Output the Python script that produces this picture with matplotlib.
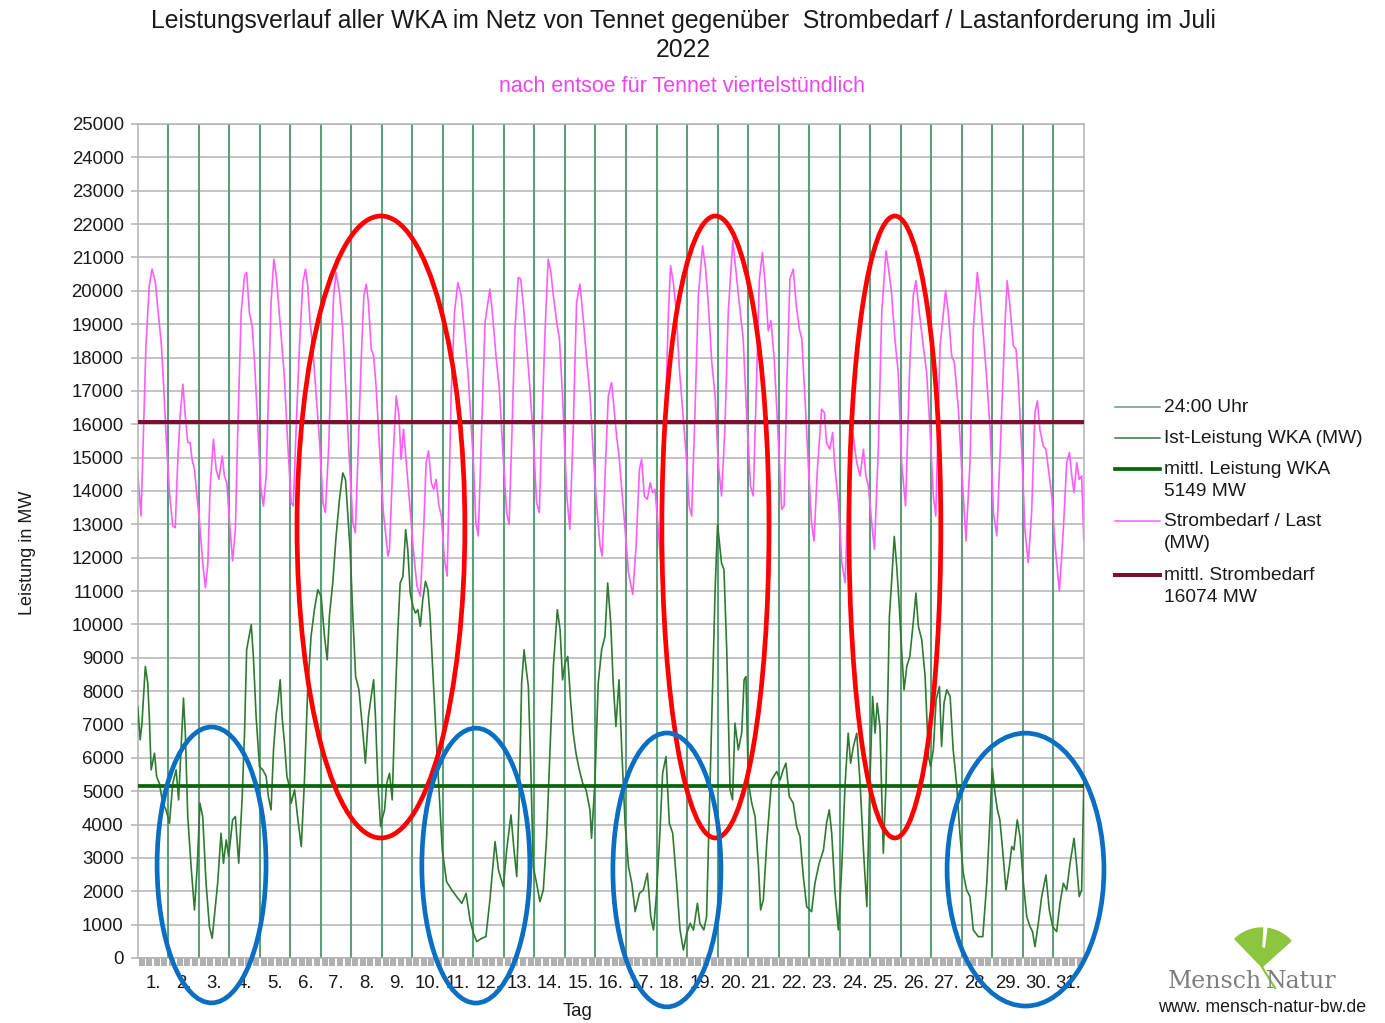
import matplotlib

matplotlib.use("Agg")
import matplotlib.pyplot as plt
from matplotlib.lines import Line2D
from matplotlib.patches import Ellipse, Wedge

plt.rcParams["font.family"] = ["Liberation Sans", "DejaVu Sans"]

W, H = 1385, 1023

# ---- data (day of July as float, MW) ----
LOAD_DAY = [
    0.00, 0.11, 0.27, 0.38, 0.47, 0.58, 0.66, 0.77, 0.84, 0.93,
    1.04, 1.15, 1.23, 1.31, 1.39, 1.48, 1.55, 1.64, 1.72, 1.78, 1.86, 1.93,
    2.02, 2.13, 2.22, 2.30, 2.37, 2.48, 2.57, 2.66, 2.77, 2.84, 2.92,
    3.01, 3.11, 3.20, 3.28, 3.39, 3.50, 3.57, 3.66, 3.75, 3.83, 3.93,
    4.04, 4.12, 4.21, 4.30, 4.37, 4.46, 4.54, 4.62, 4.71, 4.81, 4.92,
    5.03, 5.10, 5.19, 5.30, 5.41, 5.50, 5.57, 5.65, 5.74, 5.85, 5.96,
    6.07, 6.15, 6.26, 6.34, 6.42, 6.50, 6.61, 6.72, 6.83, 6.94,
    7.05, 7.13, 7.21, 7.32, 7.41, 7.49, 7.56, 7.65, 7.73, 7.81, 7.92,
    8.05, 8.20, 8.25, 8.36, 8.47, 8.56, 8.63, 8.71, 8.80, 8.91,
    9.02, 9.15, 9.26, 9.37, 9.45, 9.53, 9.62, 9.70, 9.78, 9.87, 9.95,
    10.05, 10.14, 10.27, 10.38, 10.49, 10.60, 10.72, 10.83,
    11.00, 11.08, 11.16, 11.27, 11.38, 11.54, 11.63, 11.74, 11.85, 11.96,
    12.09, 12.17, 12.25, 12.36, 12.47, 12.55, 12.64, 12.72, 12.83, 12.96,
    13.07, 13.16, 13.24, 13.35, 13.45, 13.54, 13.62, 13.73, 13.82, 13.92,
    14.06, 14.16, 14.27, 14.38, 14.49, 14.60, 14.71, 14.82, 14.93,
    15.04, 15.15, 15.22, 15.33, 15.42, 15.53, 15.61, 15.69, 15.77, 15.86, 15.97,
    16.08, 16.22, 16.33, 16.44, 16.51, 16.60, 16.70, 16.79, 16.87, 16.95,
    17.06, 17.13, 17.28, 17.39, 17.46, 17.55, 17.64, 17.75, 17.86, 17.99,
    18.07, 18.15, 18.26, 18.37, 18.51, 18.61, 18.70, 18.81, 18.92,
    19.02, 19.13, 19.24, 19.35, 19.50, 19.63, 19.71, 19.84, 19.95,
    20.08, 20.17, 20.28, 20.37, 20.47, 20.56, 20.66, 20.75, 20.86,
    21.00, 21.10, 21.18, 21.26, 21.37, 21.48, 21.57, 21.68, 21.76, 21.86, 21.97,
    22.08, 22.16, 22.27, 22.41, 22.50, 22.57, 22.68, 22.77, 22.85, 22.96,
    23.07, 23.18, 23.28, 23.43, 23.56, 23.67, 23.78, 23.86, 23.94,
    24.05, 24.14, 24.27, 24.38, 24.52, 24.59, 24.70, 24.81, 24.92,
    25.03, 25.16, 25.30, 25.41, 25.50, 25.61, 25.74, 25.85, 25.96,
    26.07, 26.15, 26.29, 26.38, 26.47, 26.56, 26.67, 26.76, 26.89,
    27.00, 27.14, 27.27, 27.38, 27.51, 27.60, 27.71, 27.82, 27.93,
    28.04, 28.15, 28.31, 28.42, 28.49, 28.58, 28.69, 28.78, 28.85, 28.96,
    29.07, 29.18, 29.29, 29.40, 29.48, 29.56, 29.67, 29.76, 29.84, 29.95,
    30.06, 30.20, 30.33, 30.44, 30.53, 30.60, 30.68, 30.77, 30.85, 30.93, 31.00,
]
LOAD_MW = [
    14550, 13250, 18350, 20150, 20650, 20250, 19450, 18450, 17350, 15650,
    13950, 12950, 12900, 14850, 16250, 17200, 16350, 15450, 15450, 14950, 14650, 13950,
    13150, 11850, 11100, 11850, 14050, 15550, 14650, 14350, 15050, 14450, 14250,
    13050, 11900, 12850, 15850, 19350, 20450, 20550, 19350, 18950, 17850, 16050,
    14050, 13550, 14450, 17350, 19650, 20950, 20450, 19550, 18550, 17350, 15350,
    13650, 13550, 15850, 18350, 20250, 20650, 20150, 19050, 18250, 16850, 15450,
    13650, 13350, 15350, 17850, 19850, 20550, 19950, 18850, 16850, 14850,
    13050, 12750, 14850, 17850, 19850, 20200, 19650, 18250, 18050, 17150, 15350,
    13350, 12050, 12250, 14850, 16850, 16250, 14950, 15850, 14850, 13650,
    12350, 11150, 10850, 12850, 14850, 15200, 14250, 14050, 14350, 13550, 13250,
    11950, 11450, 16850, 19350, 20250, 19850, 18650, 17450,
    14850, 13050, 12650, 15850, 19050, 20050, 19250, 18050, 17050, 15250,
    13350, 13000, 15350, 18850, 20400, 20350, 19550, 18650, 17350, 15650,
    13650, 13350, 15850, 18850, 20950, 20550, 19850, 19050, 18550, 16850,
    13850, 12850, 15850, 19650, 20200, 19150, 17950, 16850, 15050,
    13550, 12350, 12050, 14850, 16850, 17250, 16450, 15650, 15050, 14050, 12850,
    11550, 10900, 12350, 14650, 14950, 13850, 13750, 14250, 13950, 14050,
    12850, 11850, 15850, 19350, 20750, 20250, 19450, 17650, 16350, 14850,
    13550, 13250, 16350, 19850, 21350, 20650, 19550, 17850, 16850,
    14850, 13850, 15850, 19350, 21500, 20350, 19650, 18550, 16350,
    14150, 13850, 17350, 20350, 21150, 20200, 18800, 19100, 17900,
    15350, 13450, 13550, 16850, 20350, 20650, 19650, 18850, 18550, 16850, 14850,
    13050, 12500, 14650, 16450, 16350, 15450, 15250, 15750, 14650, 13650,
    11850, 11250, 13850, 15750, 14850, 14450, 15250, 14450, 14150,
    13050, 12250, 15350, 19350, 21200, 20750, 19950, 18550, 17550,
    14850, 13550, 17850, 19850, 20300, 19350, 18350, 17550, 15850,
    13850, 13250, 18350, 19150, 20000, 19350, 18050, 17850, 16450,
    14650, 12500, 14850, 18850, 20550, 19850, 18650, 17350, 15850,
    13350, 12650, 16350, 19050, 20300, 19550, 18350, 18250, 17350, 15350,
    12850, 11850, 13350, 16350, 16700, 15850, 15350, 15250, 14650, 13850,
    12350, 11000, 12850, 14850, 15150, 14500, 13950, 14850, 14350, 14450, 12550,
]

WIND_DAY = [
    0.00, 0.08, 0.14, 0.25, 0.33, 0.38, 0.44, 0.55, 0.62, 0.71, 0.82, 0.93,
    1.04, 1.15, 1.26, 1.34, 1.42, 1.50, 1.56, 1.64, 1.75, 1.86, 1.95,
    2.04, 2.13, 2.24, 2.35, 2.44, 2.51, 2.62, 2.73, 2.81, 2.90, 2.98,
    3.11, 3.20, 3.31, 3.42, 3.50, 3.57, 3.72, 3.79, 3.88, 3.99,
    4.10, 4.21, 4.28, 4.37, 4.45, 4.54, 4.59, 4.67, 4.73, 4.81, 4.89, 4.97,
    5.03, 5.14, 5.25, 5.36, 5.46, 5.57, 5.68, 5.79, 5.90,
    6.01, 6.12, 6.21, 6.28, 6.39, 6.50, 6.61, 6.72, 6.81, 6.89, 6.96,
    7.05, 7.14, 7.25, 7.38, 7.46, 7.56, 7.65, 7.73, 7.79, 7.87, 7.96,
    8.03, 8.09, 8.16, 8.25, 8.34, 8.42, 8.52, 8.60, 8.69, 8.78, 8.85, 8.93,
    9.02, 9.10, 9.18, 9.26, 9.34, 9.43, 9.51, 9.58, 9.69, 9.80, 9.89, 9.98,
    10.12, 10.29, 10.45, 10.62, 10.76, 10.89,
    11.00, 11.11, 11.27, 11.41, 11.54, 11.71, 11.82, 11.98,
    12.09, 12.23, 12.33, 12.42, 12.50, 12.58, 12.66, 12.72, 12.80, 12.88, 12.96,
    13.07, 13.18, 13.29, 13.40, 13.51, 13.62, 13.75, 13.84, 13.92,
    14.00, 14.09, 14.19, 14.27, 14.36, 14.47, 14.58, 14.69, 14.82, 14.87, 14.98,
    15.09, 15.20, 15.31, 15.40, 15.50, 15.58, 15.67, 15.77, 15.86, 15.97,
    16.08, 16.19, 16.30, 16.44, 16.57, 16.70, 16.81, 16.90,
    17.00, 17.11, 17.20, 17.31, 17.42, 17.53, 17.66, 17.77, 17.88, 17.99,
    18.10, 18.21, 18.34, 18.42, 18.55, 18.64, 18.81, 18.92,
    19.00, 19.13, 19.21, 19.30, 19.41, 19.49, 19.57, 19.68, 19.79, 19.87, 19.93,
    20.01, 20.12, 20.23, 20.34, 20.41, 20.50, 20.61, 20.77, 20.94,
    21.05, 21.15, 21.24, 21.35, 21.48, 21.59, 21.70, 21.81, 21.92,
    22.08, 22.19, 22.33, 22.47, 22.57, 22.66, 22.74, 22.85, 22.96,
    23.07, 23.18, 23.28, 23.36, 23.45, 23.56, 23.67, 23.78, 23.89, 23.99,
    24.08, 24.16, 24.23, 24.32, 24.43, 24.52, 24.63, 24.70, 24.79, 24.87, 24.96,
    25.03, 25.11, 25.20, 25.30, 25.41, 25.50, 25.58, 25.69, 25.80, 25.91, 25.98,
    26.07, 26.16, 26.27, 26.34, 26.42, 26.51, 26.62, 26.72, 26.83, 26.94,
    27.05, 27.16, 27.27, 27.38, 27.54, 27.69, 27.82, 27.93,
    28.00, 28.09, 28.17, 28.25, 28.34, 28.45, 28.56, 28.64, 28.71, 28.82, 28.91,
    29.02, 29.13, 29.24, 29.32, 29.40, 29.51, 29.62, 29.76, 29.87, 29.98,
    30.11, 30.22, 30.33, 30.44, 30.55, 30.68, 30.77, 30.85, 30.93, 31.00,
]
WIND_MW = [
    7540, 6540, 7040, 8740, 8240, 7240, 5640, 6140, 5440, 5240, 4640, 4440,
    4040, 5240, 5640, 4740, 6240, 7790, 6740, 4240, 2740, 1440, 2740,
    4640, 4240, 2240, 940, 590, 1240, 2240, 3740, 2840, 3540, 3040,
    4140, 4240, 2840, 4740, 6740, 9240, 9990, 9040, 7240, 5740,
    5640, 5440, 4840, 4440, 6240, 7340, 7640, 8340, 7240, 6440, 5440, 5140,
    4640, 5040, 4140, 3340, 5240, 8040, 9640, 10440, 11040,
    10840, 9640, 8940, 10240, 11240, 12640, 13740, 14540, 14340, 13240, 12240,
    10240, 8440, 8040, 6740, 5840, 7240, 7840, 8340, 7240, 5240, 3940,
    4240, 4440, 5240, 5540, 4740, 7240, 9740, 11240, 11440, 12840, 12240, 10940,
    10540, 10340, 10440, 9940, 10740, 11290, 11040, 10240, 8240, 6240, 4740, 3240,
    2290, 2040, 1840, 1640, 1940, 1140,
    740, 490, 590, 640, 1740, 3490, 2640, 2140,
    3240, 4290, 3240, 2440, 4740, 8240, 9240, 8740, 8140, 5740, 2740,
    2240, 1690, 2040, 3640, 6240, 8740, 10440, 9840, 8340,
    8840, 9040, 7640, 6740, 6140, 5640, 5240, 5040, 4440, 3590, 5240,
    8240, 9240, 9640, 11240, 10040, 8240, 6940, 8340, 6240, 4040,
    2740, 2240, 1390, 1940, 2040, 2540, 1240, 840,
    1940, 3740, 5540, 6040, 4040, 3740, 2240, 840, 240, 740,
    1040, 840, 1640, 1040, 840, 1240, 7240, 11040,
    12990, 11840, 11640, 9240, 5040, 4740, 7040, 6240, 6740, 8340, 8440,
    5240, 4640, 4240, 2740, 1440, 1740, 3440, 5340, 5590,
    5340, 5640, 5840, 4840, 4640, 3940, 3640, 2440, 1540,
    1390, 2240, 2840, 3240, 4040, 4440, 3740, 1940, 840,
    2740, 5240, 6740, 5840, 6340, 6740, 5240, 3240, 1540, 5240,
    7840, 6740, 7640, 6940, 3140, 5240, 10240, 11240, 12640, 11740, 10440,
    9240, 8040, 8740, 9040, 10040, 10940, 9940, 9540, 8440, 6040, 5740,
    6240, 7740, 8140, 6340, 7640, 8040, 7840, 6240, 5240, 3740,
    2540, 2040, 1840, 840, 640, 640, 2240, 4240,
    5690, 4940, 4440, 4140, 3240, 2040, 2740, 3340, 3240, 4140, 3640,
    2240, 1240, 940, 790, 340, 1040, 1840, 2490, 1440, 940,
    790, 1640, 2240, 2040, 2840, 3590, 2740, 1840, 2040, 5240,
]

MEAN_WIND = 5149
MEAN_LOAD = 16074
N_DAYS = 31
DAY_LABELS = [f"{d}." for d in range(1, N_DAYS + 1)]

# hand-drawn highlight ellipses (center day, center MW, width days, height MW)
RED_RINGS = [(7.97, 12920, 5.50, 18645), (18.93, 12920, 3.51, 18645), (24.81, 12920, 3.01, 18645)]
BLUE_RINGS = [(2.42, 2790, 3.57, 8270), (11.08, 2770, 3.54, 8240),
              (17.34, 2640, 3.54, 8210), (29.09, 2650, 5.14, 8180)]

C_DAYLINE = "#5c9f7a"
C_WIND = "#2f7a31"
C_LOAD = "#ff5cff"
C_MWIND = "#0c650c"
C_MLOAD = "#7a0f2e"
C_GRID = "#b3b3b3"
C_TEXT = "#1a1a1a"


def fx(x):
    return x / W


def fy(y):
    return 1 - y / H


fig = plt.figure(figsize=(W / 100, H / 100), dpi=100)
ax = fig.add_axes([fx(137.7), fy(958), (1083.8 - 137.7) / W, (958 - 124) / H])
ax.set_xlim(0, N_DAYS)
ax.set_ylim(0, 25000)

ax.set_yticks(range(0, 25001, 1000))
ax.set_yticklabels([str(v) for v in range(0, 25001, 1000)], fontsize=13.4, color=C_TEXT)
ax.tick_params(axis="y", length=5, width=1.1, color=C_GRID, pad=5)
ax.grid(axis="y", color=C_GRID, lw=1.1, zorder=0)
ax.set_axisbelow(True)

# day labels on major ticks, gray quarter-day band on minor ticks
ax.xaxis.remove_overlapping_locs = False
ax.set_xticks([d + 0.5 for d in range(N_DAYS)])
ax.set_xticklabels(DAY_LABELS, fontsize=13.4, color=C_TEXT)
ax.set_xticks([d / 4 + 0.125 for d in range(N_DAYS * 4)], minor=True)
ax.tick_params(axis="x", which="major", length=0, pad=12)
ax.tick_params(axis="x", which="minor", length=5.5, width=4.3, color="#b0b0b0")
for s in ax.spines.values():
    s.set_color(C_GRID)
    s.set_linewidth(1.1)

ax.vlines(range(1, N_DAYS), 0, 25000, color=C_DAYLINE, lw=1.5, zorder=1)
ax.plot(LOAD_DAY, LOAD_MW, color=C_LOAD, lw=1.2, zorder=2)
ax.plot(WIND_DAY, WIND_MW, color=C_WIND, lw=1.2, zorder=3)
ax.axhline(MEAN_LOAD, color=C_MLOAD, lw=2.9, zorder=4)
ax.axhline(MEAN_WIND, color=C_MWIND, lw=2.7, zorder=4)

for cx, cy, w, h in RED_RINGS:
    ax.add_patch(Ellipse((cx, cy), w, h, fill=False, ec="#ff0000", lw=3.4, zorder=6, clip_on=False))
for cx, cy, w, h in BLUE_RINGS:
    ax.add_patch(Ellipse((cx, cy), w, h, fill=False, ec="#0a6fc2", lw=3.4, zorder=6, clip_on=False))

# ---- titles and axis labels ----
fig.text(fx(683), fy(21), "Leistungsverlauf aller WKA im Netz von Tennet gegenüber  Strombedarf / Lastanforderung im Juli",
         ha="center", va="center", fontsize=17.8, color=C_TEXT)
fig.text(fx(683), fy(50), "2022", ha="center", va="center", fontsize=17.8, color=C_TEXT)
fig.text(fx(682), fy(87), "nach entsoe für Tennet viertelstündlich", ha="center", va="center",
         fontsize=15.5, color="#ee44ee")
fig.text(fx(28), fy(553), "Leistung in MW", rotation=90, ha="center", va="center", fontsize=13, color=C_TEXT)
fig.text(fx(578), fy(1012), "Tag", ha="center", va="center", fontsize=13.4, color=C_TEXT)

# ---- legend ----
legend_rows = [
    (407, C_DAYLINE, 1.1, ["24:00 Uhr"]),
    (438, C_WIND, 1.1, ["Ist-Leistung WKA (MW)"]),
    (469, C_MWIND, 2.7, ["mittl. Leistung WKA", f"{MEAN_WIND} MW"]),
    (521, C_LOAD, 1.1, ["Strombedarf / Last", "(MW)"]),
    (575, C_MLOAD, 2.9, ["mittl. Strombedarf", f"{MEAN_LOAD} MW"]),
]
for y, col, lw, lines in legend_rows:
    fig.add_artist(Line2D([fx(1115), fx(1160)], [fy(y), fy(y)], transform=fig.transFigure, color=col, lw=lw))
    for i, t in enumerate(lines):
        fig.text(fx(1164), fy(y + 22.5 * i), t, ha="left", va="center", fontsize=13.8, color=C_TEXT)

# ---- logo ----
lax = fig.add_axes([fx(1225), fy(990), 80 / W, 70 / H])
lax.set_xlim(0, 80)
lax.set_ylim(0, 70)
lax.axis("off")
lax.add_patch(Wedge((37, 23), 39, 42, 134, color="#8cc63f"))
lax.add_patch(Wedge((37, 23), 40, 83, 87, width=20, color="white"))
lax.plot([37, 50], [23, 2], color="#8cc63f", lw=1.6)
fig.text(fx(1262), fy(981), "Mensch", ha="right", va="center", fontsize=17,
         family="DejaVu Serif", color="#7d7d7d")
fig.text(fx(1266), fy(981), "Natur", ha="left", va="center", fontsize=17,
         family="DejaVu Serif", color="#7d7d7d")
fig.text(fx(1262), fy(1008), "www. mensch-natur-bw.de", ha="center", va="center", fontsize=12.8, color=C_TEXT)

fig.savefig("out.png", dpi=100)
